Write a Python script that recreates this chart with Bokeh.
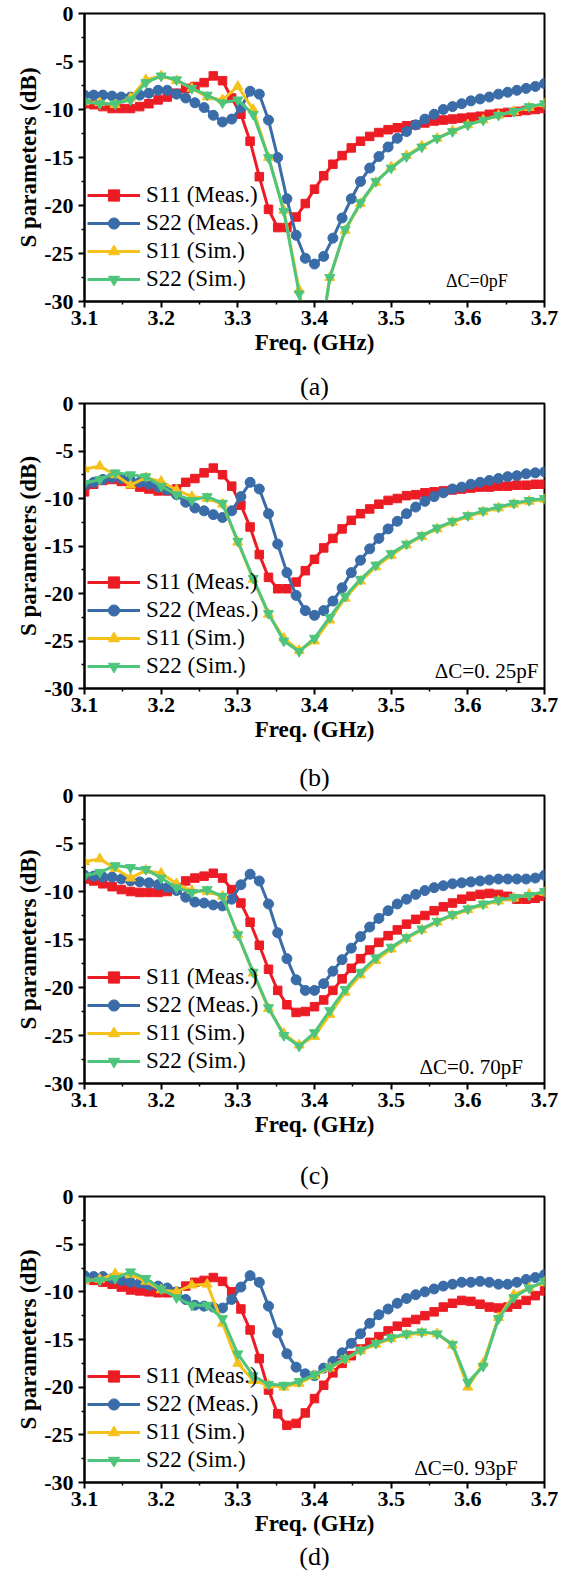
from bokeh.plotting import figure
from bokeh.models import Range1d, Label, Title, Legend, LegendItem, FixedTicker, NumeralTickFormatter
from bokeh.layouts import column
from bokeh.embed import file_html
from bokeh.resources import INLINE

# ---------------- data ----------------
FREQ_MEAS = [3.100, 3.112, 3.124, 3.136, 3.148, 3.160, 3.172, 3.184, 3.196, 3.208,
             3.220, 3.232, 3.244, 3.256, 3.268, 3.280, 3.292, 3.304, 3.316, 3.328,
             3.340, 3.352, 3.364, 3.376, 3.388, 3.400, 3.412, 3.424, 3.436, 3.448,
             3.460, 3.472, 3.484, 3.496, 3.508, 3.520, 3.532, 3.544, 3.556, 3.568,
             3.580, 3.592, 3.604, 3.616, 3.628, 3.640, 3.652, 3.664, 3.676, 3.688, 3.700]
FREQ_SIM = [3.10, 3.12, 3.14, 3.16, 3.18, 3.20, 3.22, 3.24, 3.26, 3.28,
            3.30, 3.32, 3.34, 3.36, 3.38, 3.40, 3.42, 3.44, 3.46, 3.48,
            3.50, 3.52, 3.54, 3.56, 3.58, 3.60, 3.62, 3.64, 3.66, 3.68, 3.70]

# (a) dC = 0 pF
A_S11_MEAS = [-9.4, -9.5, -9.7, -9.9, -9.9, -9.9, -9.7, -9.4, -9.0, -8.7,
              -8.3, -7.8, -7.6, -7.2, -6.5, -7.0, -8.8, -10.5, -13.3, -17.0,
              -20.4, -22.3, -22.3, -21.2, -19.8, -18.3, -16.9, -15.7, -14.8, -14.0,
              -13.3, -12.8, -12.4, -12.1, -11.9, -11.7, -11.6, -11.4, -11.2, -11.1,
              -11.0, -10.9, -10.8, -10.7, -10.5, -10.4, -10.3, -10.2, -10.1, -10.0, -9.9]
A_S22_MEAS = [-8.5, -8.5, -8.5, -8.6, -8.7, -8.7, -8.5, -8.3, -8.0, -8.0,
              -8.4, -8.8, -9.3, -9.8, -10.6, -11.3, -11.0, -9.8, -8.1, -8.4,
              -11.1, -15.0, -19.3, -23.1, -25.5, -26.1, -25.3, -23.4, -21.3, -19.3,
              -17.5, -16.1, -14.9, -13.9, -13.0, -12.3, -11.6, -11.0, -10.5, -10.0,
              -9.7, -9.4, -9.1, -8.9, -8.7, -8.4, -8.2, -8.0, -7.8, -7.6, -7.3]
A_S11_SIM = [-9.2, -9.3, -9.5, -8.8, -6.9, -6.5, -7.0, -7.8, -8.7, -9.0,
             -7.6, -10.0, -15.0, -20.5, -28.8, -38.0, -27.5, -22.6, -19.8, -17.6,
             -16.0, -14.8, -13.8, -13.0, -12.2, -11.6, -11.1, -10.6, -10.2, -9.8, -9.4]
A_S22_SIM = [-9.2, -9.4, -9.4, -9.0, -7.2, -6.5, -6.9, -7.8, -8.5, -9.3,
             -9.0, -10.5, -15.0, -20.6, -29.2, -38.0, -27.5, -22.5, -19.7, -17.5,
             -16.1, -14.9, -13.9, -13.0, -12.3, -11.6, -11.1, -10.6, -10.2, -9.7, -9.4]

# (b) dC = 0.25 pF
B_S11_MEAS = [-9.3, -8.5, -8.1, -8.0, -8.2, -8.5, -8.8, -9.0, -9.2, -9.2,
              -9.0, -8.3, -7.9, -7.3, -6.8, -7.5, -8.7, -10.7, -13.0, -15.9,
              -18.3, -19.5, -19.5, -18.8, -17.6, -16.4, -15.2, -14.2, -13.2, -12.3,
              -11.6, -11.1, -10.6, -10.2, -10.0, -9.7, -9.6, -9.4, -9.3, -9.2,
              -9.1, -9.0, -8.9, -8.8, -8.8, -8.7, -8.7, -8.6, -8.6, -8.5, -8.5]
B_S22_MEAS = [-8.6, -8.3, -8.0, -7.8, -7.9, -8.1, -8.3, -8.5, -8.8, -9.1,
              -9.6, -10.4, -11.0, -11.3, -11.7, -12.0, -11.3, -9.8, -8.3, -9.0,
              -11.6, -14.8, -17.8, -20.2, -21.8, -22.3, -21.8, -20.8, -19.4, -17.8,
              -16.5, -15.3, -14.2, -13.2, -12.4, -11.6, -10.9, -10.3, -9.8, -9.4,
              -9.0, -8.8, -8.5, -8.3, -8.1, -7.9, -7.7, -7.6, -7.4, -7.3, -7.2]
B_S11_SIM = [-6.9, -6.6, -7.5, -8.6, -7.8, -8.2, -9.1, -9.8, -10.0, -10.6,
             -14.6, -18.5, -22.2, -24.7, -26.0, -25.0, -22.8, -20.5, -18.7, -17.2,
             -16.0, -14.9, -14.0, -13.2, -12.5, -11.9, -11.4, -11.0, -10.6, -10.3, -10.1]
B_S22_SIM = [-8.4, -8.0, -7.3, -7.5, -7.7, -8.7, -9.6, -10.2, -9.8, -10.5,
             -14.5, -18.4, -22.1, -25.0, -26.1, -24.7, -22.5, -20.3, -18.5, -17.0,
             -15.8, -14.8, -13.9, -13.1, -12.4, -11.8, -11.3, -10.9, -10.5, -10.2, -10.0]

# (c) dC = 0.70 pF
C_S11_MEAS = [-8.7, -8.9, -9.2, -9.5, -9.8, -10.0, -10.1, -10.1, -10.1, -10.0,
              -9.6, -8.9, -8.6, -8.4, -8.1, -8.6, -9.8, -11.2, -13.2, -15.6,
              -18.1, -20.3, -21.8, -22.6, -22.5, -22.0, -21.3, -20.3, -19.1, -18.0,
              -17.0, -16.1, -15.3, -14.6, -14.0, -13.4, -12.9, -12.5, -12.0, -11.6,
              -11.2, -10.8, -10.5, -10.3, -10.2, -10.3, -10.5, -10.8, -10.8, -10.7, -10.5]
C_S22_MEAS = [-8.3, -8.4, -8.5, -8.5, -8.7, -8.9, -9.0, -9.1, -9.3, -9.6,
              -9.9, -10.6, -11.1, -11.2, -11.4, -11.5, -10.8, -9.3, -8.2, -8.9,
              -11.3, -14.3, -17.0, -19.2, -20.3, -20.3, -19.6, -18.3, -17.1, -15.9,
              -14.7, -13.7, -12.8, -12.0, -11.3, -10.8, -10.3, -9.9, -9.6, -9.4,
              -9.2, -9.1, -9.0, -8.9, -8.8, -8.7, -8.7, -8.7, -8.7, -8.6, -8.3]
C_S11_SIM = [-6.9, -6.6, -7.6, -8.6, -7.8, -8.1, -9.2, -9.9, -10.0, -10.5,
             -14.5, -18.5, -22.2, -24.8, -26.0, -25.1, -22.8, -20.5, -18.7, -17.2,
             -16.0, -14.9, -14.0, -13.2, -12.5, -11.9, -11.4, -11.0, -10.7, -10.3, -10.1]
C_S22_SIM = [-8.4, -8.0, -7.3, -7.5, -7.7, -8.6, -9.6, -10.1, -9.8, -10.5,
             -14.5, -18.4, -22.1, -25.0, -26.1, -24.7, -22.4, -20.2, -18.4, -16.9,
             -15.8, -14.8, -13.9, -13.1, -12.4, -11.8, -11.3, -10.9, -10.6, -10.4, -10.0]

# (d) dC = 0.93 pF
D_S11_MEAS = [-8.7, -8.8, -9.0, -9.2, -9.5, -9.8, -9.9, -10.0, -10.1, -10.1,
              -10.0, -9.4, -9.0, -8.8, -8.5, -8.9, -10.0, -11.8, -14.0, -17.0,
              -20.3, -22.8, -24.0, -23.8, -22.7, -21.2, -19.8, -18.5, -17.5, -16.7,
              -16.0, -15.3, -14.7, -14.1, -13.6, -13.2, -12.9, -12.5, -12.1, -11.6,
              -11.2, -10.9, -11.0, -11.3, -11.6, -11.7, -11.6, -11.3, -10.9, -10.4, -9.9]
D_S22_MEAS = [-8.3, -8.4, -8.4, -8.6, -8.8, -9.0, -9.1, -9.3, -9.4, -9.6,
              -10.0, -10.8, -11.4, -11.5, -11.6, -11.7, -10.8, -9.5, -8.3, -9.0,
              -11.5, -14.3, -16.5, -17.9, -18.6, -18.8, -18.0, -17.3, -16.4, -15.4,
              -14.4, -13.3, -12.4, -11.8, -11.2, -10.7, -10.3, -10.0, -9.7, -9.4,
              -9.2, -9.0, -9.0, -8.9, -9.0, -9.2, -9.2, -9.0, -8.7, -8.5, -8.2]
D_S11_SIM = [-8.8, -8.7, -8.1, -8.2, -8.9, -9.8, -10.0, -9.3, -9.2, -13.3,
             -17.5, -19.3, -19.8, -20.0, -19.6, -18.8, -18.0, -17.1, -16.2, -15.5,
             -14.9, -14.5, -14.3, -14.4, -15.6, -20.0, -17.5, -12.7, -10.3, -9.6, -9.0]
D_S22_SIM = [-8.8, -8.8, -8.6, -7.9, -8.6, -9.7, -10.6, -11.4, -11.4, -12.8,
             -16.5, -18.8, -19.7, -19.8, -19.4, -18.7, -17.9, -17.0, -16.1, -15.4,
             -14.8, -14.4, -14.2, -14.4, -15.5, -19.5, -17.8, -12.8, -10.6, -9.6, -8.9]

SERIES_NAMES = ["S11 (Meas.)", "S22 (Meas.)", "S11 (Sim.)", "S22 (Sim.)"]
SERIES_COLORS = ["#EC1C24", "#3A6CA8", "#F5C21B", "#4EC57C"]
SERIES_MARKERS = ["square", "circle", "triangle", "inverted_triangle"]
SERIES_MSIZE = [8.5, 10, 10, 10]

X_TICKS = [3.1, 3.2, 3.3, 3.4, 3.5, 3.6, 3.7]
X_MINOR = [3.15, 3.25, 3.35, 3.45, 3.55, 3.65]
Y_TICKS = [-30, -25, -20, -15, -10, -5, 0]
Y_MINOR = [-27.5, -22.5, -17.5, -12.5, -7.5, -2.5]

CAPTIONS = ["(a)", "(b)", "(c)", "(d)"]
DC_TEXTS = ["\u0394C=0pF", "\u0394C=0. 25pF", "\u0394C=0. 70pF", "\u0394C=0. 93pF"]

SERIF = "Liberation Serif"

# caption of panel k is the title above panel k+1; the last one sits below (d)
PANELS = [
    dict(meas=(A_S11_MEAS, A_S22_MEAS), sim=(A_S11_SIM, A_S22_SIM), dc=DC_TEXTS[0],
         dc_x=3.652, dc_y=-27.9, dc_size="18px", cap_above=None, cap_so=0, cap_below=None,
         frame_h=288, b_top=13, b_bot=65),
    dict(meas=(B_S11_MEAS, B_S22_MEAS), sim=(B_S11_SIM, B_S22_SIM), dc=DC_TEXTS[1],
         dc_x=3.692, dc_y=-28.2, dc_size="21px", cap_above=CAPTIONS[0], cap_so=5, cap_below=None,
         frame_h=285, b_top=37, b_bot=68),
    dict(meas=(C_S11_MEAS, C_S22_MEAS), sim=(C_S11_SIM, C_S22_SIM), dc=DC_TEXTS[2],
         dc_x=3.672, dc_y=-28.3, dc_size="21px", cap_above=CAPTIONS[1], cap_so=7, cap_below=None,
         frame_h=288, b_top=39, b_bot=67),
    dict(meas=(D_S11_MEAS, D_S22_MEAS), sim=(D_S11_SIM, D_S22_SIM), dc=DC_TEXTS[3],
         dc_x=3.665, dc_y=-28.5, dc_size="21px", cap_above=CAPTIONS[2], cap_so=14,
         cap_below=CAPTIONS[3], frame_h=286, b_top=46, b_bot=98),
]


def style_caption(t, text, standoff):
    t.text = text
    t.align = "center"
    t.text_font = SERIF
    t.text_font_size = "26px"
    t.text_font_style = "normal"
    t.text_color = "black"
    t.standoff = standoff
    t.offset = 0


def make_panel(cfg):
    p = figure(frame_width=460, frame_height=cfg["frame_h"],
               min_border_left=84, min_border_right=14, min_border_top=cfg["b_top"],
               min_border_bottom=cfg["b_bot"],
               x_range=Range1d(3.1, 3.7), y_range=Range1d(-30, 0),
               output_backend="svg", toolbar_location=None)
    if cfg["cap_above"]:
        style_caption(p.title, cfg["cap_above"], cfg["cap_so"])
    else:
        p.title.text = ""
    p.xgrid.visible = False
    p.ygrid.visible = False
    p.outline_line_color = "black"
    p.outline_line_width = 2
    p.background_fill_color = "white"
    p.border_fill_color = "white"

    for ax in (p.xaxis[0], p.yaxis[0]):
        ax.axis_line_width = 2
        ax.axis_line_color = "black"
        ax.major_tick_line_width = 2
        ax.minor_tick_line_width = 1.5
        ax.major_tick_out = 6
        ax.major_tick_in = 0
        ax.minor_tick_out = 3
        ax.minor_tick_in = 0
        ax.major_label_text_font = SERIF
        ax.major_label_text_font_style = "bold"
        ax.major_label_text_font_size = "22px"
        ax.major_label_text_color = "black"
        ax.axis_label_text_font = SERIF
        ax.axis_label_text_font_style = "bold"
        ax.axis_label_text_font_size = "23px"
        ax.axis_label_text_color = "black"

    p.xaxis.ticker = FixedTicker(ticks=X_TICKS, minor_ticks=X_MINOR)
    p.yaxis.ticker = FixedTicker(ticks=Y_TICKS, minor_ticks=Y_MINOR)
    p.xaxis.formatter = NumeralTickFormatter(format="0.0")
    p.yaxis.formatter = NumeralTickFormatter(format="0")
    p.xaxis.axis_label = "Freq. (GHz)"
    p.yaxis.axis_label = "S parameters (dB)"
    p.xaxis.major_label_standoff = 3
    p.yaxis.major_label_standoff = 5
    p.xaxis.axis_label_standoff = 2
    p.yaxis.axis_label_standoff = 0

    ys = [cfg["meas"][0], cfg["meas"][1], cfg["sim"][0], cfg["sim"][1]]
    xs = [FREQ_MEAS, FREQ_MEAS, FREQ_SIM, FREQ_SIM]
    items = []
    for k in range(4):
        col = SERIES_COLORS[k]
        ln = p.line(xs[k], ys[k], line_color=col, line_width=3)
        sc = p.scatter(xs[k], ys[k], marker=SERIES_MARKERS[k], size=SERIES_MSIZE[k],
                       fill_color=col, line_color=col)
        items.append(LegendItem(label=SERIES_NAMES[k], renderers=[ln, sc]))

    legend = Legend(items=items, location=(3, 8), padding=0, margin=0, spacing=0,
                    glyph_width=53, glyph_height=28, label_height=28, label_standoff=6,
                    label_text_font=SERIF, label_text_font_size="23px",
                    label_text_color="black",
                    border_line_alpha=0, background_fill_alpha=0)
    p.add_layout(legend)

    p.add_layout(Label(x=cfg["dc_x"], y=cfg["dc_y"], text=cfg["dc"], text_align="right",
                       text_baseline="middle", text_font=SERIF,
                       text_font_size=cfg["dc_size"], text_color="black"))

    if cfg["cap_below"]:
        t = Title()
        style_caption(t, cfg["cap_below"], 3)
        p.add_layout(t, "below")
    return p


figs = [make_panel(c) for c in PANELS]
layout = column(*figs, spacing=0)

open("out.html", "w").write(file_html(layout, INLINE))
